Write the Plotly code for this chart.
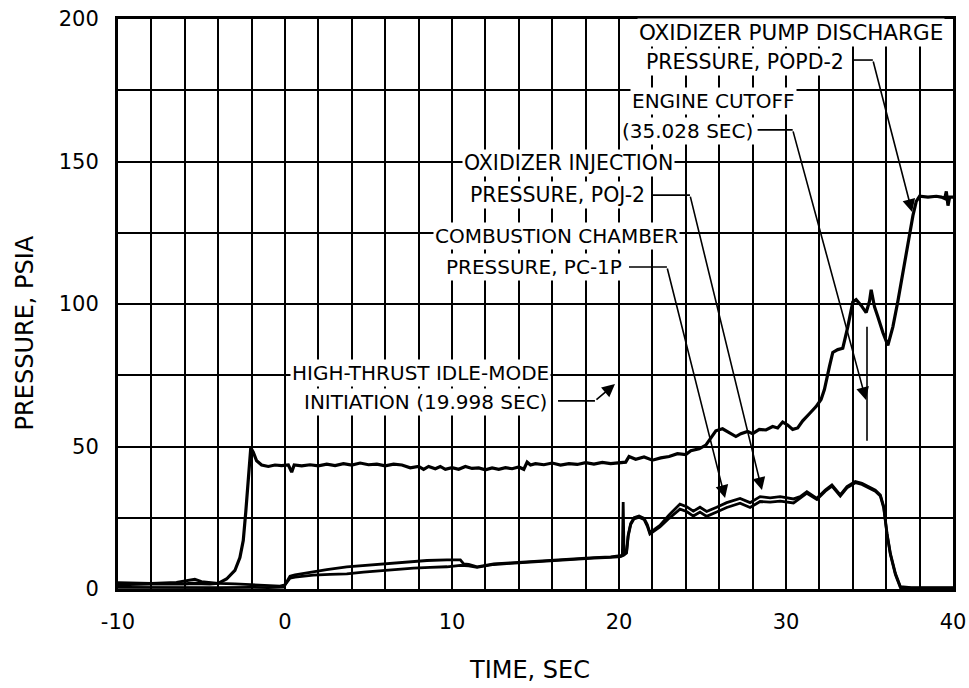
import plotly.graph_objects as go

# ---------------- data ----------------
popd_x = [-10, -8, -6, -5.5, -4.5, -4.0, -3.5, -3.0, -2.7, -2.5, -2.35, -2.25, -2.15, -2.05, -1.9, -1.7,
          -1.4, -1.0, -0.6, -0.2, 0.2, 0.4, 0.55, 1.0, 1.5, 2.0, 2.5, 3.0, 3.5, 4.0, 4.5, 5.0, 5.5, 6.0,
          6.5, 7.0, 7.5, 8.0, 8.3, 8.6, 9.0, 9.3, 9.6, 10.0, 10.4, 10.8, 11.2, 11.6, 12.0, 12.4, 12.8,
          13.2, 13.6, 14.0, 14.3, 14.5, 14.7, 15.0, 15.5, 16.0, 16.5, 17.0, 17.5, 18.0, 18.5, 19.0,
          19.5, 20.0, 20.4, 20.6, 21.0, 21.5, 22.0, 22.5, 23.0, 23.5, 24.0, 24.3, 24.8, 25.2, 25.5,
          25.8, 26.2, 26.6, 27.0, 27.3, 27.7, 28.0, 28.4, 28.8, 29.2, 29.5, 29.8, 30.1, 30.4, 30.7,
          31.0, 31.4, 31.8, 32.1, 32.3, 32.6, 32.8, 33.1, 33.4, 33.7, 34.0, 34.2, 34.5, 34.8, 35.0,
          35.1, 35.3, 35.5, 35.8, 36.1, 36.4, 36.7, 37.0, 37.3, 37.6, 37.8, 38.0, 38.5, 39.0, 39.3,
          39.5, 39.6, 39.7, 39.8, 40.0]
popd_y = [1.5, 1.8, 1.8, 2.0, 1.8, 2.0, 3.5, 6.5, 11, 17, 27, 35, 44, 49.5, 48, 45,
          43.5, 43, 43.5, 43.3, 43.5, 41, 43.5, 43.2, 43.6, 43.2, 43.8, 43.3, 44, 43.5, 44.2, 43.6, 43.8, 43.2,
          43.8, 43.5, 42.5, 43, 42, 43, 42.2, 43, 42, 42.6, 42, 43, 42.3, 42.5, 41.8, 42.5, 42.0,
          42.6, 42.2, 42.8, 42.0, 44.5, 43.5, 44, 43.6, 44.2, 43.5, 44.0, 43.7, 44.3, 43.8, 44.4,
          44, 44.3, 44.5, 46.5, 45.5, 46.3, 45.2, 46, 46.5, 47.5, 47.2, 48.5, 49.2, 50.5, 53,
          55.5, 56.2, 55, 53.5, 54.5, 55.3, 54.5, 56, 55.8, 57, 56.5, 58.6, 57.5, 56, 56.5,
          59, 61.5, 64, 66.5, 70, 78, 83, 84, 84.5, 92, 100.7, 101.5, 99.5, 97, 101,
          105, 99, 95.5, 90, 85.5, 92, 101, 111, 121, 131, 136, 137.8, 137.5, 137.8, 137.5,
          137, 139.5, 134.5, 137.5, 137.5]

poj_x = [-10, -8, -6.5, -5.8, -5.4, -5.0, -4.0, -3.0, -2.0, -1.0, -0.3, 0.0, 0.3, 0.6, 1.0, 1.7,
         2.5, 3.7, 4.5, 5.7, 6.5, 7.7, 8.5, 9.7, 10.5, 10.7, 11.0, 11.5, 12.5, 13.5, 14.5, 15.5,
         16.5, 17.5, 18.5, 19.5, 20.1, 20.2, 20.25, 20.3, 20.45, 20.55, 20.7, 20.9, 21.2, 21.5,
         21.7, 21.85, 22.1, 22.45, 23.0, 23.65, 24.05, 24.45, 24.85, 25.25, 25.85, 26.45, 27.25,
         27.85, 28.45, 29.05, 29.65, 30.45, 30.85, 31.25, 31.85, 32.35, 32.75, 33.25, 33.65,
         34.15, 34.55, 34.95, 35.35, 35.65, 35.85, 36.05, 36.25, 36.55, 36.85, 37.5, 40.0]
poj_y = [2.2, 2.0, 2.3, 3.0, 3.4, 2.6, 2.0, 1.8, 1.5, 1.3, 1.0, 1.5, 4.5, 5.0, 5.4, 6.1,
         6.8, 7.8, 8.2, 8.8, 9.2, 9.8, 10.0, 10.2, 10.2, 8.8, 8.6, 7.8, 8.8, 9.2, 9.6, 10.0,
         10.4, 10.7, 11.0, 11.3, 11.6, 11.8, 30.5, 12.5, 13.0, 19.0, 23.0, 25.0, 25.6, 24.8,
         22.5, 19.8, 20.8, 22.3, 26.0, 29.8, 28.9, 27.3, 28.7, 27.2, 28.7, 30.3, 31.8,
         30.3, 32.4, 32.0, 32.4, 31.6, 32.4, 34.1, 31.8, 34.7, 36.5, 33.0, 35.9,
         37.7, 37.1, 35.9, 34.7, 33.0, 28.9, 19.5, 12.5, 5.5, 0.8, 0.5, 0.5]

pc_x = [-10, -8, -6, -4, -2, -1, -0.1, 0.3, 0.6, 1.0, 1.7, 2.7, 3.7, 4.7, 5.7, 6.7, 7.7,
        8.7, 9.7, 10.5, 11.0, 11.5, 12.5, 13.5, 14.5, 15.5, 16.5, 17.5, 18.5, 19.5, 20.1, 20.3,
        20.45, 20.55, 20.7, 20.9, 21.2, 21.5, 21.7, 21.85, 22.1, 22.45, 23.0, 23.65, 24.05,
        24.45, 24.85, 25.25, 25.85, 26.45, 27.25, 27.85, 28.45, 29.05, 29.65, 30.45, 30.85,
        31.25, 31.85, 32.35, 32.75, 33.25, 33.65, 34.15, 34.55, 34.95, 35.35, 35.65, 35.85,
        36.05, 36.25, 36.55, 36.85, 37.5, 40.0]
pc_y = [0.6, 0.5, 0.6, 0.5, 0.6, 0.5, 0.7, 3.8, 4.2, 4.5, 4.9, 5.1, 5.3, 5.9, 6.4, 6.9, 7.3,
        7.6, 7.8, 8.3, 8.1, 7.6, 8.6, 9.0, 9.4, 9.8, 10.2, 10.5, 10.8, 11.1, 11.4, 11.9,
        12.6, 18.5, 22.6, 24.6, 25.2, 24.4, 22.0, 19.3, 20.3, 21.8, 24.8, 28.0, 27.2,
        25.6, 27.0, 25.5, 27.0, 28.6, 30.1, 28.6, 30.7, 30.5, 30.8, 30.2, 31.9, 33.6, 31.4,
        34.3, 36.1, 32.6, 35.5, 37.3, 36.7, 35.5, 34.3, 32.6, 28.5, 19.1, 12.1, 5.1, 0.5,
        0.3, 0.3]

x_tick_vals = [-10, 0, 10, 20, 30, 40]
x_tick_text = ["-10", "0", "10", "20", "30", "40"]
y_tick_vals = [0, 50, 100, 150, 200]
y_tick_text = ["0", "50", "100", "150", "200"]

FONT = "DejaVu Sans"

fig = go.Figure()
fig.add_trace(go.Scatter(x=pc_x, y=pc_y, mode="lines", name="PC-1P",
                         line=dict(color="black", width=2.8)))
fig.add_trace(go.Scatter(x=poj_x, y=poj_y, mode="lines", name="POJ-2",
                         line=dict(color="black", width=2.8)))
fig.add_trace(go.Scatter(x=popd_x, y=popd_y, mode="lines", name="POPD-2",
                         line=dict(color="black", width=3.2)))

# ---------------- labels ----------------
txt = dict(showarrow=False, bgcolor="white", borderpad=1, xref="x", yref="y", yanchor="middle")
labels = [
    ("OXIDIZER PUMP DISCHARGE", 21.1, 195.4, "left", 21.5),
    ("PRESSURE, POPD-2", 33.6, 184.9, "right", 20.5),
    ("ENGINE CUTOFF", 20.66, 171.2, "left", 20),
    ("(35.028 SEC)", 28.15, 160.7, "right", 20),
    ("OXIDIZER INJECTION", 10.6, 149.5, "left", 20.5),
    ("PRESSURE, POJ-2", 21.7, 138.2, "right", 20.5),
    ("COMBUSTION CHAMBER", 8.86, 123.9, "left", 20),
    ("PRESSURE, PC-1P", 20.3, 113.0, "right", 20),
    ("HIGH-THRUST IDLE-MODE", 0.3, 75.8, "left", 20),
    ("INITIATION (19.998 SEC)", 15.8, 65.6, "right", 20),
]
annotations = []
for t, x, y, anc, sz in labels:
    annotations.append(dict(text=t, x=x, y=y, xanchor=anc,
                            font=dict(family=FONT, size=sz, color="black"), **txt))

# leader lines: horizontal segment then arrow
leaders = [
    ((34.0, 185.6), (35.2, 185.6), (37.55, 132.3)),
    ((28.3, 161.1), (30.4, 161.1), (34.79, 66.3)),
    ((22.0, 138.2), (24.25, 138.2), (28.56, 34.7)),
    ((20.6, 113.0), (22.87, 113.0), (26.35, 31.9)),
    ((16.35, 66.0), (18.56, 66.0), (19.76, 71.9)),
]
shapes = []
for (x0, y0), (x1, y1), (x2, y2) in leaders:
    shapes.append(dict(type="line", xref="x", yref="y", x0=x0, y0=y0, x1=x1, y1=y1,
                       line=dict(color="black", width=1.6), layer="above"))
    annotations.append(dict(x=x2, y=y2, ax=x1, ay=y1, xref="x", yref="y", axref="x", ayref="y",
                            text="", showarrow=True, arrowhead=2, arrowsize=1.6,
                            arrowwidth=1.6, arrowcolor="black", standoff=0))
# engine cutoff marker
shapes.append(dict(type="line", xref="x", yref="y", x0=34.85, x1=34.85, y0=52, y1=92,
                   line=dict(color="black", width=1.6), layer="above"))

# axis titles
annotations.append(dict(text="TIME, SEC", xref="paper", yref="paper", x=0.493, y=-0.142,
                        showarrow=False, font=dict(family=FONT, size=24, color="black"),
                        xanchor="center", yanchor="middle"))
annotations.append(dict(text="PRESSURE, PSIA", xref="paper", yref="paper", x=-0.111, y=0.449,
                        showarrow=False, textangle=-90, font=dict(family=FONT, size=24, color="black"),
                        xanchor="center", yanchor="middle"))

grid = dict(showgrid=True, gridcolor="black", gridwidth=2.4)
fig.update_layout(
    width=969, height=688,
    margin=dict(l=118, r=16, t=19, b=99, autoexpand=False),
    paper_bgcolor="white", plot_bgcolor="white",
    showlegend=False,
    font=dict(family=FONT, size=21, color="black"),
    annotations=annotations, shapes=shapes,
    xaxis=dict(range=[-10, 40], tickmode="array", tickvals=x_tick_vals, ticktext=x_tick_text,
               ticks="", ticklabelstandoff=12, zeroline=False, automargin=False,
               showline=True, linecolor="black", linewidth=3, mirror=True,
               minor=dict(tick0=-10, dtick=2, showgrid=True, gridcolor="black", gridwidth=2.4),
               tickfont=dict(family=FONT, size=21), **grid),
    yaxis=dict(range=[0, 200], tickmode="array", tickvals=y_tick_vals, ticktext=y_tick_text,
               ticks="", ticklabelstandoff=12, zeroline=False, automargin=False,
               showline=True, linecolor="black", linewidth=3, mirror=True,
               minor=dict(tick0=0, dtick=25, showgrid=True, gridcolor="black", gridwidth=2.4),
               tickfont=dict(family=FONT, size=21), **grid),
)

fig.write_html("out.html")
